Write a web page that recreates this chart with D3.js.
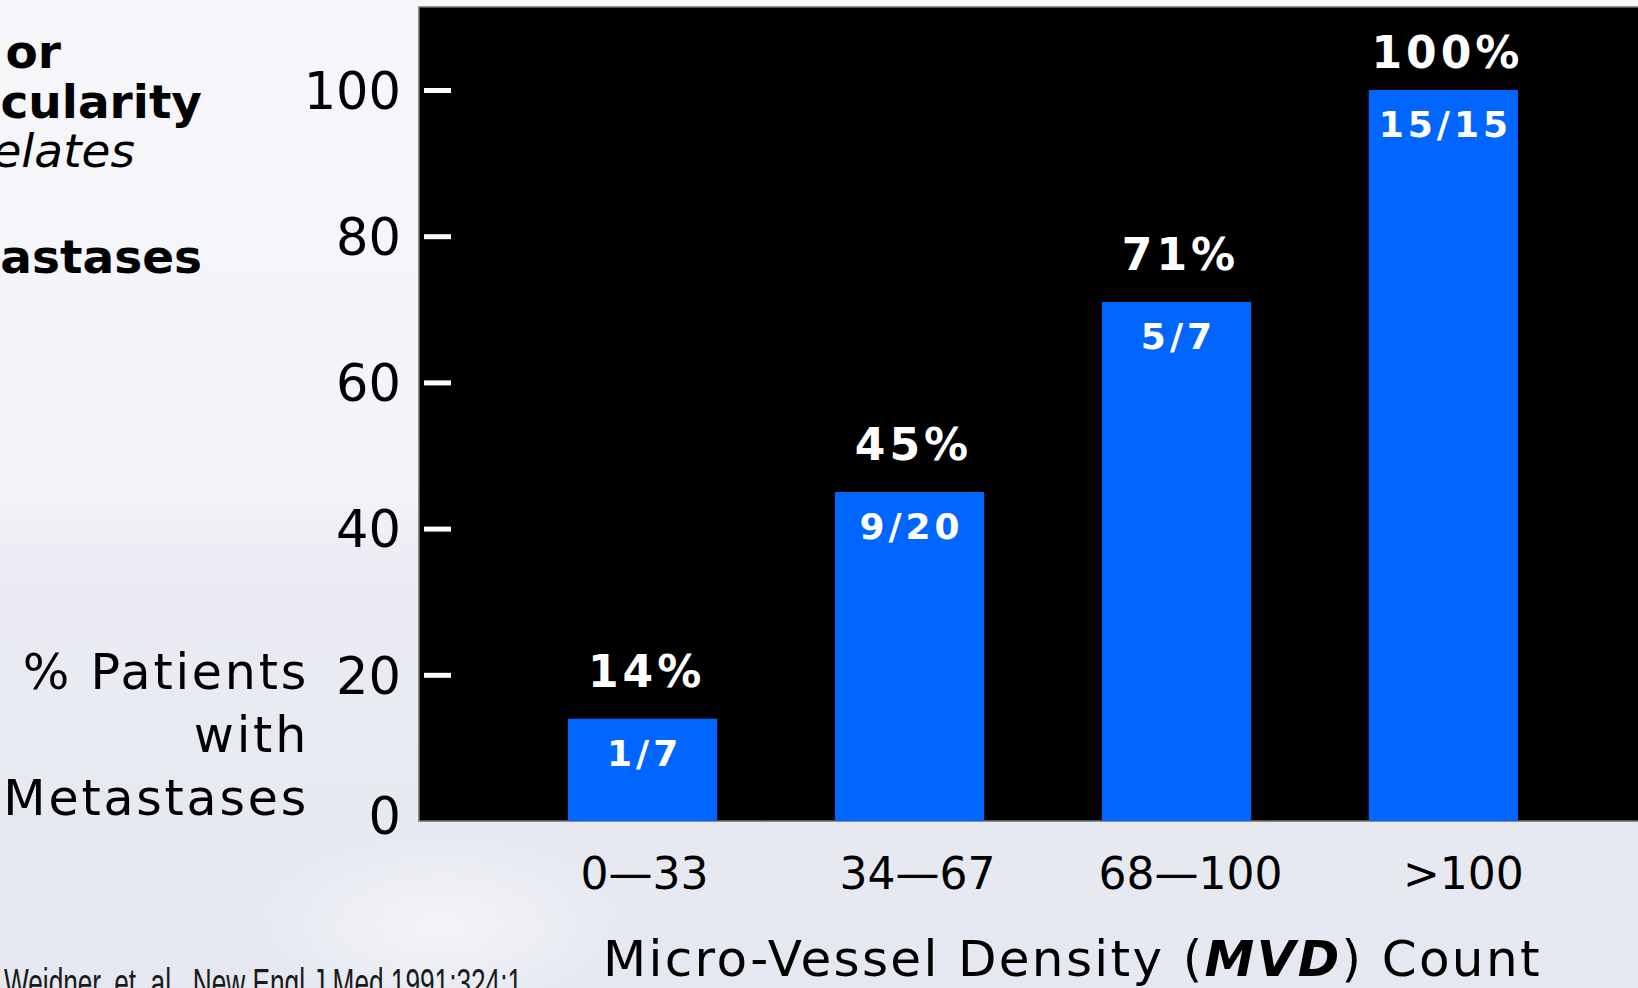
<!DOCTYPE html>
<html>
<head>
<meta charset="utf-8">
<script src="https://cdn.jsdelivr.net/npm/d3@7"></script>
<style>
  html, body { margin: 0; padding: 0; overflow: hidden; background: #eef0f6; }
  svg { display: block; }
</style>
</head>
<body>
<svg id="chart" width="1638" height="988"></svg>
<script>
// MVD count ranges and share of patients with metastases in each range
const categories = ["0\u201433", "34\u201467", "68\u2014100", ">100"];
const percentValues = [14, 45, 71, 100];
const fractionLabels = ["1/7", "9/20", "5/7", "15/15"];
const yTickValues = [0, 20, 40, 60, 80, 100];

// Slide heading (clipped at the left edge of the slide)
const headingLines = ["or", "cularity", "elates", "astases"];
const yTitleLines = ["% Patients", "with", "Metastases"];
const citation = "Weidner, et. al., New Engl J Med 1991;324:1";

const W = 1638, H = 988;
const panel = { left: 419, top: 7, bottom: 821 };

const svg = d3.select("#chart");
const defs = svg.append("defs");

// Soft slide background
const bg = defs.append("linearGradient").attr("id", "bg")
  .attr("x1", 0).attr("y1", 0).attr("x2", 0).attr("y2", 1);
[[0, "#f6f6fb"], [0.5, "#f3f4f9"], [0.58, "#eaebf3"], [1, "#e5e8f0"]]
  .forEach(([o, c]) => bg.append("stop").attr("offset", o).attr("stop-color", c));

const haze = defs.append("radialGradient").attr("id", "haze");
haze.append("stop").attr("offset", 0).attr("stop-color", "#ffffff").attr("stop-opacity", 0.55);
haze.append("stop").attr("offset", 1).attr("stop-color", "#ffffff").attr("stop-opacity", 0);

svg.append("rect").attr("width", W).attr("height", H).attr("fill", "url(#bg)");
svg.append("ellipse").attr("cx", 440).attr("cy", 925).attr("rx", 190).attr("ry", 90)
  .attr("fill", "url(#haze)");

// Scales
const y = d3.scaleLinear().domain([0, 100]).range([panel.bottom, 90]);
const x = d3.scaleBand().domain(categories).range([568, 1518])
  .paddingInner(0.441).paddingOuter(0);

// Black plot panel
svg.append("rect")
  .attr("x", panel.left).attr("y", panel.top)
  .attr("width", W - panel.left + 4).attr("height", panel.bottom - panel.top)
  .attr("fill", "#000").attr("stroke", "#707070").attr("stroke-width", 1.5);

// Bars
svg.append("g").selectAll("rect")
  .data(categories)
  .join("rect")
  .attr("x", d => x(d))
  .attr("y", (d, i) => y(percentValues[i]))
  .attr("width", x.bandwidth())
  .attr("height", (d, i) => y(0) - y(percentValues[i]))
  .attr("fill", "#0066ff");

// Y axis: white dashes inside the panel, numbers outside
const yAxis = svg.append("g")
  .attr("transform", `translate(${panel.left + 5},0)`)
  .call(d3.axisRight(y).tickValues(yTickValues).tickSize(27).tickFormat(d3.format("d")));
yAxis.select(".domain").remove();
yAxis.selectAll(".tick line")
  .attr("stroke", "#fff").attr("stroke-width", 5)
  .filter(d => d === 0).remove();
yAxis.selectAll(".tick text")
  .attr("x", -23).attr("dy", d => d === 0 ? "0.24em" : "0.36em")
  .attr("text-anchor", "end")
  .attr("fill", "#000")
  .style("font-family", "'DejaVu Sans', sans-serif")
  .style("font-size", "51px");

// X axis category labels
const xAxis = svg.append("g")
  .attr("transform", `translate(0,${panel.bottom})`)
  .call(d3.axisBottom(x).tickSize(0).tickPadding(37));
xAxis.select(".domain").remove();
xAxis.selectAll(".tick text")
  .attr("dx", (d, i) => 2 + i * 6)
  .attr("fill", "#000")
  .style("font-family", "'DejaVu Sans', sans-serif")
  .style("font-size", "44px");

// Percent labels above bars
svg.append("g").selectAll("text")
  .data(categories)
  .join("text")
  .attr("x", d => x(d) + x.bandwidth() / 2 + 4)
  .attr("y", (d, i) => Math.max(y(percentValues[i]) - 32, panel.top + 61))
  .attr("text-anchor", "middle")
  .attr("fill", "#fff")
  .style("font-family", "'DejaVu Sans', sans-serif")
  .style("font-weight", "bold")
  .style("font-size", "44px")
  .style("letter-spacing", "4px")
  .text((d, i) => percentValues[i] + "%");

// Patient counts inside bars
svg.append("g").selectAll("text")
  .data(categories)
  .join("text")
  .attr("x", d => x(d) + x.bandwidth() / 2 + 2)
  .attr("y", (d, i) => y(percentValues[i]) + 47)
  .attr("text-anchor", "middle")
  .attr("fill", "#fff")
  .style("font-family", "'DejaVu Sans', sans-serif")
  .style("font-weight", "bold")
  .style("font-size", "36px")
  .style("letter-spacing", "4px")
  .text((d, i) => fractionLabels[i]);

// Y axis title
svg.append("g").selectAll("text")
  .data(yTitleLines)
  .join("text")
  .attr("x", 309)
  .attr("y", (d, i) => 689 + i * 63)
  .attr("text-anchor", "end")
  .attr("fill", "#000")
  .style("font-family", "'DejaVu Sans', sans-serif")
  .style("font-size", "49px")
  .style("letter-spacing", "2.8px")
  .text(d => d);

// X axis title
const xTitle = svg.append("text")
  .attr("x", 603).attr("y", 976)
  .attr("fill", "#000")
  .style("font-family", "'DejaVu Sans', sans-serif")
  .style("font-size", "50px")
  .style("letter-spacing", "2.35px");
xTitle.append("tspan").text("Micro-Vessel Density (");
xTitle.append("tspan").style("font-weight", "bold").style("font-style", "italic").text("MVD");
xTitle.append("tspan").text(") Count");

// Heading fragments
const headingX = [61, 202, 135, 202];
const headingY = [68, 118, 167, 273];
svg.append("g").selectAll("text")
  .data(headingLines)
  .join("text")
  .attr("x", (d, i) => headingX[i])
  .attr("y", (d, i) => headingY[i])
  .attr("text-anchor", "end")
  .attr("fill", "#000")
  .style("font-family", "'DejaVu Sans', sans-serif")
  .style("font-size", "47px")
  .style("font-weight", (d, i) => i === 2 ? "normal" : "bold")
  .style("font-style", (d, i) => i === 2 ? "italic" : "normal")
  .text(d => d);

// Source reference
svg.append("text")
  .attr("x", 4).attr("y", 997)
  .attr("textLength", 518).attr("lengthAdjust", "spacingAndGlyphs")
  .attr("fill", "#1a1a1a")
  .style("font-family", "'Liberation Sans Narrow', 'Liberation Sans', sans-serif")
  .style("font-size", "40px")
  .text(citation);
</script>
</body>
</html>
